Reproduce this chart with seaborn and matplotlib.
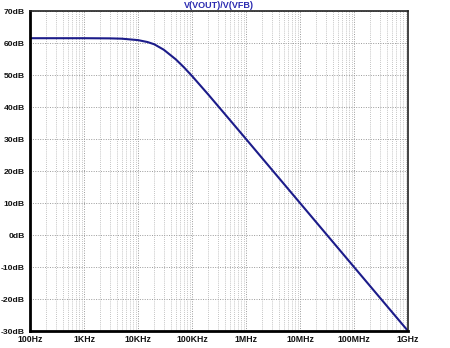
import matplotlib
matplotlib.use("Agg")
import matplotlib.pyplot as plt
import matplotlib.ticker as mticker
import seaborn as sns
import pandas as pd

# Values
freq_hz = [100, 1e3, 3e3, 5e3, 1e4, 1.5e4, 2e4, 3e4, 5e4, 7e4, 1e5, 2e5,
           5e5, 1e6, 1e7, 1e8, 1e9]
gain_db = [61.5, 61.5, 61.45, 61.35, 60.9, 60.3, 59.6, 57.9, 54.9, 52.5,
           49.7, 43.9, 36.0, 30.0, 10.0, -10.0, -30.0]
x_ticks = [1e2, 1e3, 1e4, 1e5, 1e6, 1e7, 1e8, 1e9]
x_labels = ["100Hz", "1KHz", "10KHz", "100KHz", "1MHz", "10MHz", "100MHz", "1GHz"]
y_ticks = [-30, -20, -10, 0, 10, 20, 30, 40, 50, 60, 70]
y_labels = [f"{v}dB" for v in y_ticks]
title = "V(VOUT)/V(VFB)"

sns.set_style("white")
plt.rcParams["font.family"] = ["Liberation Sans", "DejaVu Sans"]

df = pd.DataFrame({"freq": freq_hz, "gain": gain_db})

fig = plt.figure(figsize=(4.5, 3.48), dpi=100)
ax = fig.add_axes([30/450, 1-331/348, 378/450, 320/348])
ax.set_xscale("log")
sns.lineplot(data=df, x="freq", y="gain", ax=ax, color="#1c1c8a", linewidth=1.5)
ax.set_xlim(1e2, 1e9)
ax.set_ylim(-30, 70)

ax.set_xticks(x_ticks)
ax.set_xticklabels(x_labels, fontsize=6.3, fontweight="bold")
ax.xaxis.set_minor_locator(mticker.LogLocator(base=10, subs=range(2, 10), numticks=20))
ax.xaxis.set_minor_formatter(mticker.NullFormatter())
ax.set_yticks(y_ticks)
ax.set_yticklabels(y_labels, fontsize=6.1, fontweight="bold")

ax.tick_params(axis="y", which="major", direction="out", length=3.2, width=1.3,
               color="black", pad=0.6, labelcolor="#111111")
ax.tick_params(axis="x", which="major", direction="out", length=2.5, width=1.3,
               color="black", pad=0.3, labelcolor="#111111")
ax.tick_params(axis="x", which="minor", direction="out", length=2.0, width=0.8, color="black")
ax.tick_params(axis="y", which="minor", left=False)

ax.grid(True, which="major", axis="both", color="#9a9a9a", linestyle=(0, (1, 1.5)), linewidth=0.7)
ax.grid(True, which="minor", axis="x", color="#b0b0b0", linestyle=(0, (1, 1.5)), linewidth=0.6)

for side in ["left", "bottom"]:
    ax.spines[side].set_linewidth(2.0)
    ax.spines[side].set_color("black")
for side in ["top", "right"]:
    ax.spines[side].set_linewidth(1.2)
    ax.spines[side].set_color("#222222")

ax.set_xlabel("")
ax.set_ylabel("")
fig.text(219/450, 1-5/348, title, ha="center", va="center", fontsize=6.5,
         fontweight="bold", color="#2a2ab0")

fig.savefig("out.png", dpi=100)
